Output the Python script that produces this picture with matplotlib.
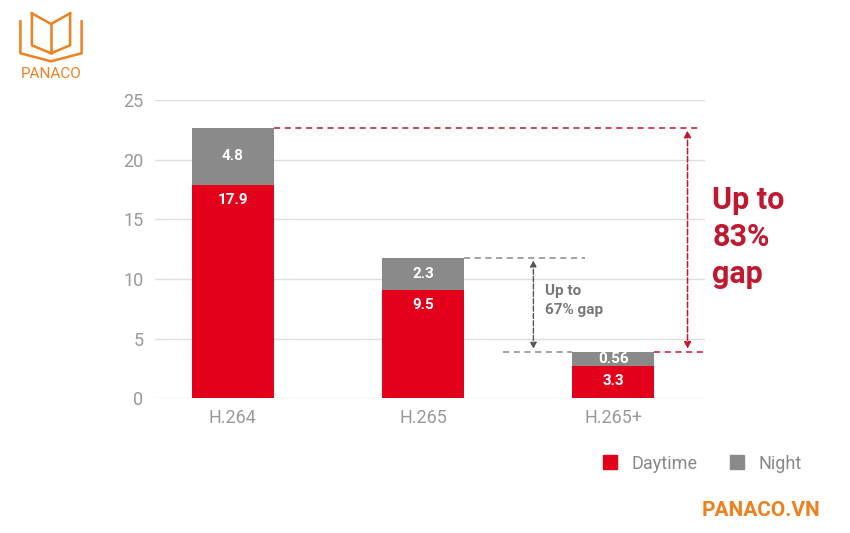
import matplotlib
matplotlib.use("Agg")
import matplotlib.pyplot as plt
from matplotlib.lines import Line2D

plt.rcParams['font.family'] = ['Roboto', 'DejaVu Sans']

categories = ["H.264", "H.265", "H.265+"]
daytime = [17.9, 9.1, 2.7]
night = [4.8, 2.7, 1.2]
day_labels = ["17.9", "9.5", "3.3"]
night_labels = ["4.8", "2.3", "0.56"]
yticks = [0, 5, 10, 15, 20, 25]

RED = "#e2001a"
GRAY = "#8a8a8a"
DRED = "#c0182e"
ORANGE = "#f07f1e"

fig = plt.figure(figsize=(8.5, 5.33), dpi=100)
ax = fig.add_axes([0.182, 0.253, 0.647, 0.559])
x = list(range(len(categories)))
w = 0.43
ax.bar(x, daytime, width=w, color=RED, zorder=3)
ax.bar(x, night, width=w, bottom=daytime, color=GRAY, zorder=3)
for i in x:
    ax.text(i, daytime[i] - 1.3, day_labels[i], ha="center", va="center", color="white", fontsize=11, fontweight="bold", zorder=4)
    ax.text(i, daytime[i] + night[i] / 2, night_labels[i], ha="center", va="center", color="white", fontsize=11, fontweight="bold", zorder=4)

ax.set_xlim(-0.41, 2.48)
ax.set_ylim(0, 25)
ax.set_yticks(yticks)
ax.set_xticks(x)
ax.set_xticklabels(categories)
ax.tick_params(length=0, colors="#999999", labelsize=13, pad=8)
ax.grid(axis="y", color="#dddddd", linewidth=1, zorder=0)
for s in ax.spines.values():
    s.set_visible(False)

tot = [d + n for d, n in zip(daytime, night)]
# red annotation
ax.plot([w / 2, 2.45], [tot[0], tot[0]], ls="--", color=DRED, lw=1.1, dashes=(4, 3))
ax.plot([2 + w / 2, 2.48], [tot[2], tot[2]], ls="--", color=DRED, lw=1.1, dashes=(4, 3))
ax.annotate("", xy=(2.39, tot[2]), xytext=(2.39, tot[0]),
            arrowprops=dict(arrowstyle="<|-|>", ls="--", color=DRED, lw=1.1, mutation_scale=10))
ax.text(2.52, 13.5, "Up to\n83%\ngap", color=DRED, fontsize=22, fontweight="bold", va="center", ha="left", linespacing=1.3)
# gray annotation
ax.plot([1 + w / 2, 1.85], [tot[1], tot[1]], ls="--", color="#888888", lw=1.1, dashes=(4, 3))
ax.plot([1.42, 2 - w / 2], [tot[2], tot[2]], ls="--", color="#888888", lw=1.1, dashes=(4, 3))
ax.annotate("", xy=(1.58, tot[2]), xytext=(1.58, tot[1]),
            arrowprops=dict(arrowstyle="<|-|>", ls="--", color="#555555", lw=1.0, mutation_scale=9))
ax.text(1.64, 8.2, "Up to\n67% gap", color="#777777", fontsize=11, fontweight="bold", va="center", ha="left", linespacing=1.4)

handles = [Line2D([], [], marker="s", ls="", color=RED, markersize=10),
           Line2D([], [], marker="s", ls="", color=GRAY, markersize=10)]
fig.legend(handles, ["Daytime", "Night"], loc="center", bbox_to_anchor=(0.82, 0.13), ncol=2, frameon=False,
           fontsize=13, labelcolor="#888888", handletextpad=0.2, columnspacing=1.2)

# logo
la = fig.add_axes([0.015, 0.88, 0.09, 0.1])
la.set_xlim(0, 10); la.set_ylim(0, 10); la.axis("off")
for pts in [[(1, 8), (1, 2), (5, 0.5), (9, 2), (9, 8)],
            [(2.5, 9.5), (2.5, 3.5), (5, 2), (7.5, 3.5), (7.5, 9.5)],
            [(2.5, 9.5), (5, 7.5), (7.5, 9.5)], [(5, 7.5), (5, 2)]]:
    xs, ys = zip(*pts)
    la.plot(xs, ys, color=ORANGE, lw=1.8)
fig.text(0.06, 0.862, "PANACO", color=ORANGE, fontsize=11, ha="center", va="center")
fig.text(0.965, 0.025, "PANACO.VN", color=ORANGE, fontsize=15, fontweight="bold", ha="right", va="bottom")

fig.savefig("out.png", dpi=100)
